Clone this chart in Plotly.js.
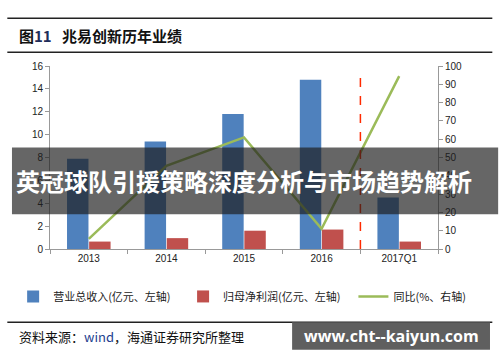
<!DOCTYPE html>
<html><head><meta charset="utf-8">
<script src="https://cdn.plot.ly/plotly-3.0.1.min.js"></script>
<style>html,body{margin:0;padding:0;background:#fff}#c{width:500px;height:362px}</style>
</head><body><div id="c"></div>
<script>
const categories = ['2013', '2014', '2015', '2016', '2017Q1'];
const revenue = [7.9, 9.4, 11.8, 14.8, 4.5];
const netProfit = [0.65, 0.95, 1.6, 1.7, 0.65];
const yoy = [5.5, 45.5, 61, 11, 94.5];
const seriesNames = ['营业总收入(亿元、左轴)', '归母净利润(亿元、左轴)', '同比(%、右轴)'];
const leftTicks = [0, 2, 4, 6, 8, 10, 12, 14, 16];
const rightTicks = [0, 10, 20, 30, 40, 50, 60, 70, 80, 90, 100];
const dividerAfter = 3.5;

const cjk = '"Noto Sans CJK SC", sans-serif';
const tickFont = {family: '"Liberation Sans", Arial, sans-serif', size: 10, color: '#222'};
const legFont = {family: cjk, size: 11, color: '#222'};

const traces = [
  {type: 'bar', x: categories, y: revenue, name: seriesNames[0], marker: {color: '#4F81BD'}, legend: 'legend'},
  {type: 'bar', x: categories, y: netProfit, name: seriesNames[1], marker: {color: '#C0504D'}, legend: 'legend2'},
  {type: 'scatter', mode: 'lines', x: categories, y: yoy, name: seriesNames[2], yaxis: 'y2',
   line: {color: '#9BBB59', width: 2.5}, legend: 'legend3'}
];

function leg(x) {
  return {orientation: 'h', x: x, xanchor: 'left', y: -0.18, yanchor: 'top', font: legFont,
    bgcolor: 'rgba(0,0,0,0)'};
}

const layout = {
  width: 500, height: 362,
  margin: {l: 50, r: 62, t: 66, b: 113},
  paper_bgcolor: '#fff', plot_bgcolor: '#fff',
  barmode: 'group', bargap: 0.43, bargroupgap: 0.03,
  showlegend: true,
  legend: leg(-0.095), legend2: leg(0.343), legend3: leg(0.782),
  xaxis: {type: 'category', showline: true, linecolor: '#999', ticks: 'outside', tickson: 'boundaries',
    tickcolor: '#999', ticklen: 4, tickfont: tickFont, showgrid: false, zeroline: false},
  yaxis: {range: [0, 16], tickvals: leftTicks, showline: true, linecolor: '#999', ticks: 'outside',
    tickcolor: '#999', ticklen: 4, tickfont: tickFont, showgrid: false, zeroline: false},
  yaxis2: {range: [0, 100], tickvals: rightTicks, overlaying: 'y', side: 'right', showline: true,
    linecolor: '#999', ticks: 'outside', tickcolor: '#999', ticklen: 4, tickfont: tickFont,
    showgrid: false, zeroline: false},
  shapes: [
    {type: 'line', xref: 'x', yref: 'y', x0: dividerAfter, x1: dividerAfter, y0: 0, y1: 15.7,
     line: {color: '#FF2A00', width: 1.5, dash: 'dash'}},
    {type: 'line', xref: 'paper', yref: 'paper', x0: -0.11, x1: 1.14, y0: 1.261, y1: 1.261, line: {color: '#222', width: 1.5}},
    {type: 'line', xref: 'paper', yref: 'paper', x0: -0.11, x1: 1.14, y0: 1.075, y1: 1.075, line: {color: '#222', width: 1.5}},
    {type: 'line', xref: 'paper', yref: 'paper', x0: -0.11, x1: 1.14, y0: -0.40, y1: -0.40, line: {color: '#222', width: 1.5}},
    {type: 'rect', xref: 'paper', yref: 'paper', x0: -0.098, x1: 1.155, y0: 0.19, y1: 0.555,
     fillcolor: 'rgba(30,30,30,0.68)', line: {width: 0}},
    {type: 'rect', xref: 'paper', yref: 'paper', x0: 0.624, x1: 1.134, y0: -0.40, y1: -0.55,
     fillcolor: 'rgba(95,95,95,1)', line: {width: 0}}
  ],
  annotations: [
    {xref: 'paper', yref: 'paper', x: -0.085, y: 1.168, xanchor: 'left', yanchor: 'middle', showarrow: false,
     text: '<b>图<span style="color:#1F2D5A">11</span>   兆易创新历年业绩</b>', font: {family: cjk, size: 15, color: '#111'}},
    {xref: 'paper', yref: 'paper', x: 0.5, y: 0.372, xanchor: 'center', yanchor: 'middle', showarrow: false,
     text: '<b>英冠球队引援策略深度分析与市场趋势解析</b>', font: {family: cjk, size: 24, color: '#fff'}},
    {xref: 'paper', yref: 'paper', x: -0.085, y: -0.478, xanchor: 'left', yanchor: 'middle', showarrow: false,
     text: '资料来源：<span style="color:#1F3F8F">wind</span>，海通证券研究所整理', font: {family: cjk, size: 13, color: '#111'}},
    {xref: 'paper', yref: 'paper', x: 0.879, y: -0.475, xanchor: 'center', yanchor: 'middle', showarrow: false,
     text: '<b>www.cht--kaiyun.com</b>', font: {family: '"Open Sans", "DejaVu Sans", sans-serif', size: 16, color: '#fff'}}
  ]
};

Plotly.newPlot('c', traces, layout, {displayModeBar: false, staticPlot: true});
</script></body></html>
